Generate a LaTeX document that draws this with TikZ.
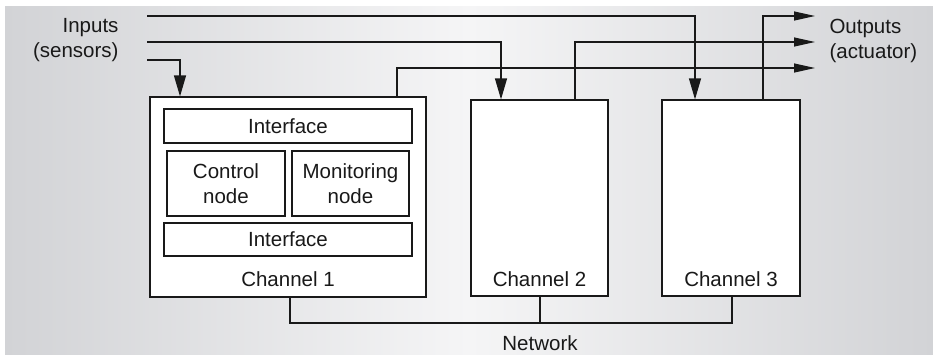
\documentclass[tikz,border=0pt]{standalone}
\usepackage{fontspec}
\setmainfont{Liberation Sans}
\usetikzlibrary{arrows.meta,calc}
\definecolor{bgedge}{RGB}{210,211,214}
\definecolor{bgmid}{RGB}{245,245,246}
\definecolor{ink}{RGB}{25,25,25}
\begin{document}
\begin{tikzpicture}[x=1pt,y=-1pt,
  every node/.style={font=\fontsize{20.5}{25}\selectfont, text=ink},
  box/.style={draw=ink, line width=1.2pt, fill=white, inner sep=0pt},
  wire/.style={draw=ink, line width=1.2pt},
  arrdown/.style={wire, -{Triangle[length=21pt,width=12pt]}},
  arrright/.style={wire, -{Triangle[length=21pt,width=9pt]}}]
  \useasboundingbox (0,0) rectangle (933,354);
  % shaded panel
  \shade[left color=bgedge, right color=bgedge, middle color=bgmid] (5,6) rectangle (933,354);

  % channels
  \node[box, minimum width=276pt, minimum height=200pt] (ch1) at (288,197) {};
  \node[box, minimum width=137pt, minimum height=196pt] (ch2) at (539.5,198) {};
  \node[box, minimum width=138pt, minimum height=196pt] (ch3) at (731,198) {};

  % inner blocks of channel 1
  \node[box, minimum width=248pt, minimum height=34pt] (if1) at (288,126) {Interface};
  \node[box, minimum width=118pt, minimum height=65pt, align=center] (ctrl) at (226,183.5) {Control\\node};
  \node[box, minimum width=117pt, minimum height=65pt, align=center] (mon) at (350.5,183.5) {Monitoring\\node};
  \node[box, minimum width=248pt, minimum height=33pt] (if2) at (288,239.5) {Interface};

  \node (l1) at (288,279) {Channel 1};
  \node (l2) at (539.5,279) {Channel 2};
  \node (l3) at (731,279) {Channel 3};

  % side labels
  \node[align=right, anchor=east] (inputs) at (122,40.5) {Inputs\\(sensors)};
  \node[align=left, anchor=west] (outputs) at (826,40.5) {Outputs\\(actuator)};

  % sensor inputs
  \coordinate (in1) at (147,16);
  \coordinate (in2) at (147,42);
  \coordinate (in3) at (147,60);
  \draw[arrdown] (in1) -| ([xshift=-36pt]ch3.north);
  \draw[arrdown] (in2) -| ([xshift=-38.5pt]ch2.north);
  \draw[arrdown] (in3) -| ([xshift=-108pt]ch1.north);

  % actuator outputs
  \coordinate (out1) at (815,16);
  \coordinate (out2) at (815,42);
  \coordinate (out3) at (815,68);
  \draw[arrright] ([xshift=32pt]ch3.north) |- (out1);
  \draw[arrright] ([xshift=35.5pt]ch2.north) |- (out2);
  \draw[arrright] ([xshift=109pt]ch1.north) |- (out3);

  % network bus
  \coordinate (netL) at (290,323);
  \coordinate (netR) at (732,323);
  \draw[wire] ([xshift=2pt]ch1.south) -- (netL) -- (netR) -- ([xshift=1pt]ch3.south);
  \draw[wire] ([xshift=0.5pt]ch2.south) -- ([xshift=0.5pt]ch2.south |- netL);
  \node (net) at (540,343) {Network};
\end{tikzpicture}
\end{document}
